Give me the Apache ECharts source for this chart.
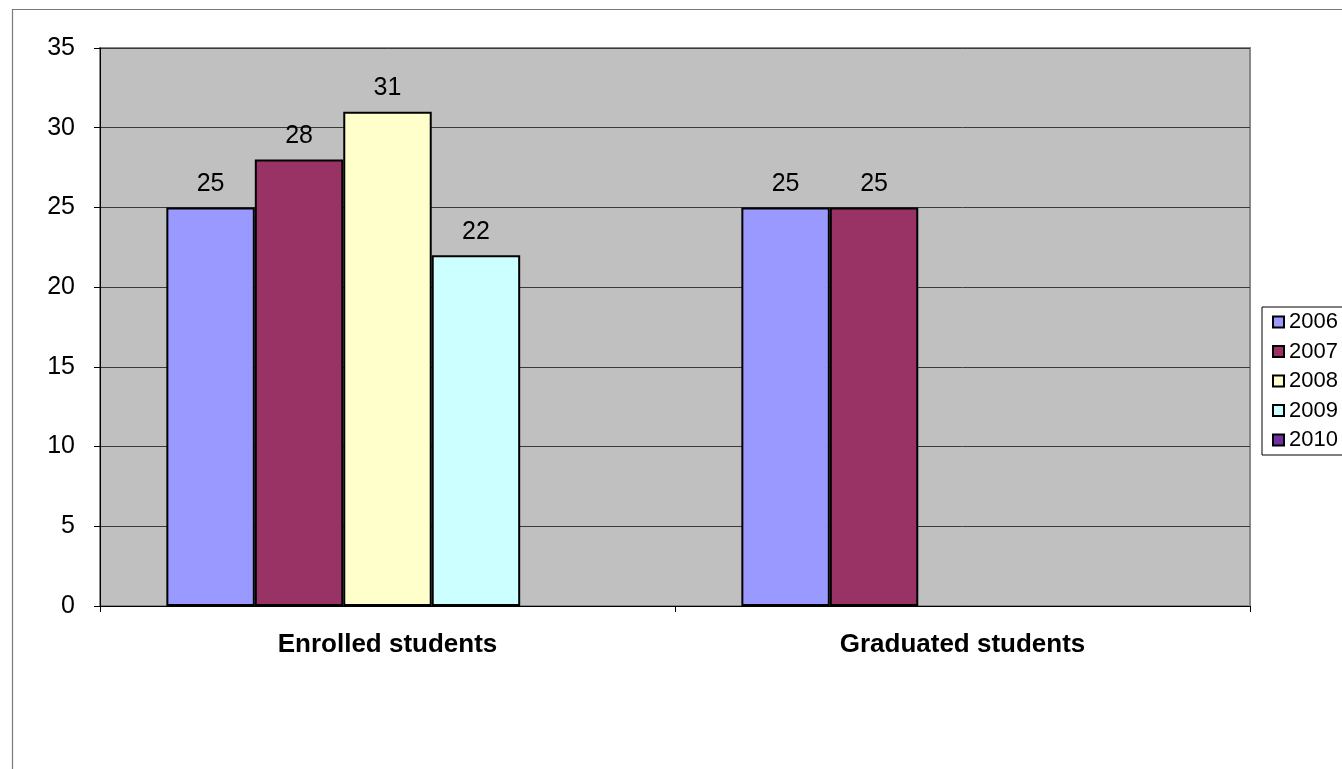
<!DOCTYPE html>
<html>
<head>
<meta charset="utf-8">
<script src="https://cdn.jsdelivr.net/npm/echarts@6/dist/echarts.min.js"></script>
<style>
html,body{margin:0;padding:0;background:#fff;}
#chart{width:1342px;height:769px;}
</style>
</head>
<body>
<div id="chart"></div>
<script>
const categories = ['Enrolled students', 'Graduated students'];
const seriesNames = ['2006', '2007', '2008', '2009', '2010'];
const values2006 = [25, 25];
const values2007 = [28, 25];
const values2008 = [31, null];
const values2009 = [22, null];
const values2010 = [null, null];
const yTicks = [0, 5, 10, 15, 20, 25, 30, 35];

const colors = ['#9999FF', '#993366', '#FFFFCC', '#CCFFFF', '#7030A0'];
const allValues = [values2006, values2007, values2008, values2009, values2010];

const chart = echarts.init(document.getElementById('chart'));
const font = 'Liberation Sans, Arial, sans-serif';

chart.setOption({
  animation: false,
  backgroundColor: '#ffffff',
  textStyle: { fontFamily: font },
  graphic: [{
    type: 'rect',
    shape: { x: 12.5, y: 9.5, width: 1400, height: 800 },
    style: { fill: 'none', stroke: '#7a7a7a', lineWidth: 1.2 },
    silent: true
  }],
  grid: {
    left: 100, right: 92, top: 48, bottom: 163,
    show: true, backgroundColor: '#C0C0C0', borderColor: '#888888', borderWidth: 2
  },
  legend: {
    orient: 'vertical',
    left: 1262, top: 307,
    icon: 'rect',
    itemWidth: 11, itemHeight: 11, itemGap: 7.5,
    padding: [4, 12, 4, 10],
    borderColor: '#000', borderWidth: 1,
    backgroundColor: '#fff',
    textStyle: { fontSize: 22, lineHeight: 22, color: '#000', fontFamily: font },
    itemStyle: { borderWidth: 2, borderColor: '#000' },
    data: seriesNames
  },
  xAxis: {
    type: 'category',
    data: categories,
    axisLine: { show: true, lineStyle: { color: '#000', width: 1 } },
    axisTick: { show: true, length: 6, lineStyle: { color: '#000' } },
    axisLabel: { fontSize: 26, fontWeight: 'bold', color: '#000', margin: 26, fontFamily: font },
    splitLine: { show: false }
  },
  yAxis: {
    type: 'value',
    min: yTicks[0], max: yTicks[yTicks.length - 1], interval: 5,
    axisLine: { show: true, lineStyle: { color: '#000', width: 1 } },
    axisTick: { show: true, length: 6, lineStyle: { color: '#000' } },
    axisLabel: { fontSize: 25, color: '#000', margin: 25, fontFamily: font },
    splitLine: { show: true, lineStyle: { color: '#3a3a3a', width: 1 } }
  },
  series: seriesNames.map((name, i) => ({
    name: name,
    type: 'bar',
    data: allValues[i],
    barGap: '0%',
    barCategoryGap: '23.08%',
    itemStyle: { color: colors[i], borderColor: '#000', borderWidth: 2 },
    label: {
      show: true, position: 'top', distance: 11,
      fontSize: 25, color: '#000', fontFamily: font
    }
  }))
});
</script>
</body>
</html>
